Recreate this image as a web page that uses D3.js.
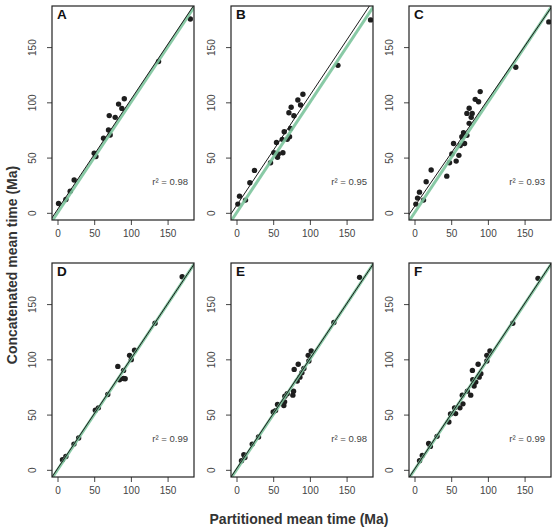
<!DOCTYPE html>
<html>
<head>
<meta charset="utf-8">
<script src="https://cdn.jsdelivr.net/npm/d3@7"></script>
<style>
  html, body { margin: 0; padding: 0; background: #fff; }
  svg { display: block; font-family: "Liberation Sans", Arial, Helvetica, sans-serif; }
</style>
</head>
<body>
<svg id="chart" width="558" height="532"></svg>
<script>
// ---- data ----
const panelLabels = ["A", "B", "C", "D", "E", "F"];
const r2Labels = ["r\u00b2 = 0.98", "r\u00b2 = 0.95", "r\u00b2 = 0.93", "r\u00b2 = 0.99", "r\u00b2 = 0.98", "r\u00b2 = 0.99"];
const tickValues = [0, 50, 100, 150];
const fitIntercepts = [3.0, 6.5, 5.7, 1.0, 1.0, 0.5];
const fitSlopes = [0.995, 0.998, 0.967, 0.995, 0.995, 1.0];

const pointsA = [[1.4,8.4],[11.4,12],[17.3,19.5],[22.7,29.7],[50,54],[52.3,51],[62.7,67.5],[69.5,75],[71.8,70.5],[70.5,88],[78.6,86.4],[83.2,98.4],[87.7,94.5],[91,103.2],[137.7,137],[181,175.5]];
const pointsB = [[1.8,7.9],[4.1,15.1],[12.3,11.5],[18.2,27.2],[24.5,38.4],[46.4,45.3],[50.9,54.4],[54.5,63.7],[55.9,50.2],[57,53.2],[62.3,66.5],[63.2,54.4],[65,73.4],[69.1,66.5],[72.3,68.9],[71.4,90.6],[73.6,76.4],[74.5,95.5],[78.2,87.9],[83.6,102.1],[87.3,97.6],[90.5,107.3],[138.2,133.5],[182.7,174.6]];
const pointsC = [[1.8,7.9],[4.1,13.3],[6.8,18.7],[12.3,11.5],[15.9,28.1],[22.7,38.7],[44,33.2],[47.7,45.3],[50.9,53.2],[53.2,62.8],[56.8,46.8],[60.5,52],[62.3,61],[64.5,68.9],[66.8,72.5],[68.2,62.8],[71.4,70.1],[71.4,90],[74.5,81],[74.5,94.6],[77.3,86.4],[78.6,90],[82.7,102.7],[87.3,100.6],[89.5,109.7],[138,131.7],[183,172.8]];
const pointsD = [[6.8,9.1],[11.4,12.1],[22.4,23.3],[28.8,28.8],[51.6,53.9],[55.7,56.1],[68.5,68.2],[82.2,93.6],[84.5,81.5],[90,82.7],[92.2,82.4],[90,90],[98.2,103.6],[100.5,99.7],[105,108.2],[132.9,132.7],[169.9,174.8]];
const pointsE = [[6.8,8.2],[10,13.6],[11.4,11.2],[21.4,23.3],[30,29.7],[50,52.4],[53.2,53.6],[55.9,59.1],[64.5,58.2],[65.5,61.5],[65.9,66.7],[69.1,68.8],[76.8,67.6],[77.7,71.2],[78.6,90.9],[82.7,80.3],[84.1,95.5],[86.4,83.9],[89.1,87.9],[91.8,91.8],[97.7,103.6],[98.6,98.5],[101.8,107.6],[132.7,133.3],[167.7,174.2]];
const pointsF = [[6.9,8.2],[10.6,13],[19.3,23.9],[21.6,21.2],[30.7,30.3],[46.8,43.3],[49.1,50.6],[54.6,56.1],[56,50.9],[61.9,56.1],[65.1,67.6],[66,59.7],[72,71.2],[76.6,67.6],[78.9,90],[79.4,81.5],[81.2,75.8],[83.5,79.4],[86.7,95.5],[88.1,83.9],[90.4,87],[98.6,98.5],[98.6,103.6],[102.8,107.6],[133.9,132.7],[168.3,173.3]];
const allPoints = [pointsA, pointsB, pointsC, pointsD, pointsE, pointsF];

const xTitle = "Partitioned mean time (Ma)";
const yTitle = "Concatenated mean time (Ma)";

// ---- layout ----
const colLefts = [52, 231, 409];
const rowTops = [6, 263];
const pw = 142, ph = 214;
const xDomain = [-7.5, 186];
const yDomain = [-6.5, 187.2];

const svg = d3.select("#chart");

panelLabels.forEach((lab, i) => {
  const left = colLefts[i % 3], top = rowTops[Math.floor(i / 3)];
  const x = d3.scaleLinear().domain(xDomain).range([left, left + pw]);
  const y = d3.scaleLinear().domain(yDomain).range([top + ph, top]);
  const g = svg.append("g");

  const clipId = "clip" + i;
  svg.append("clipPath").attr("id", clipId)
    .append("rect").attr("x", left).attr("y", top).attr("width", pw).attr("height", ph);

  // axes (ticks only, no domain line)
  const xAxis = d3.axisBottom(x).tickValues(tickValues).tickSize(5).tickPadding(5);
  const gx = g.append("g").attr("transform", `translate(0,${top + ph})`).call(xAxis);
  gx.select(".domain").remove();
  gx.selectAll("line").attr("stroke", "#444");
  gx.selectAll("text").attr("font-size", 10).attr("fill", "#444")
    .attr("font-family", "Liberation Sans, Arial, sans-serif");

  const yAxis = d3.axisLeft(y).tickValues(tickValues).tickSize(5).tickPadding(0);
  const gy = g.append("g").attr("transform", `translate(${left},0)`).call(yAxis);
  gy.select(".domain").remove();
  gy.selectAll("line").attr("stroke", "#444");
  gy.selectAll("text")
    .attr("font-size", 10).attr("fill", "#444")
    .attr("font-family", "Liberation Sans, Arial, sans-serif")
    .attr("x", null).attr("dy", null)
    .attr("text-anchor", "middle")
    .attr("transform", "translate(-16,0) rotate(-90)");

  const plot = g.append("g").attr("clip-path", `url(#${clipId})`);

  // points
  plot.selectAll("circle").data(allPoints[i]).join("circle")
    .attr("cx", d => x(d[0])).attr("cy", d => y(d[1]))
    .attr("r", 2.7).attr("fill", "#1e1e1e");

  // 1:1 line
  const lo = -20, hi = 220;
  plot.append("line")
    .attr("x1", x(lo)).attr("y1", y(lo)).attr("x2", x(hi)).attr("y2", y(hi))
    .attr("stroke", "#7cc49c").attr("stroke-opacity", 0.9).attr("stroke-width", 3);
  // regression line
  const a = fitIntercepts[i], b = fitSlopes[i];
  plot.append("line")
    .attr("x1", x(lo)).attr("y1", y(a + b * lo)).attr("x2", x(hi)).attr("y2", y(a + b * hi))
    .attr("stroke", "#1a1a1a").attr("stroke-width", 1);

  // box
  g.append("rect").attr("x", left).attr("y", top).attr("width", pw).attr("height", ph)
    .attr("fill", "none").attr("stroke", "#222").attr("stroke-width", 1.2);

  // panel letter
  g.append("text").attr("x", left + 5).attr("y", top + 13)
    .attr("font-size", 13.5).attr("font-weight", "bold").attr("fill", "#111").text(lab);

  // r2 text
  g.append("text").attr("x", left + pw - 6).attr("y", top + 179)
    .attr("text-anchor", "end").attr("font-size", 9.5).attr("fill", "#444").text(r2Labels[i]);
});

// axis titles
svg.append("text").attr("x", 299).attr("y", 524).attr("text-anchor", "middle")
  .attr("font-size", 14).attr("font-weight", "bold").attr("fill", "#333").text(xTitle);
svg.append("text").attr("transform", "translate(17,265) rotate(-90)").attr("text-anchor", "middle")
  .attr("font-size", 14).attr("font-weight", "bold").attr("fill", "#333").text(yTitle);
</script>
</body>
</html>
